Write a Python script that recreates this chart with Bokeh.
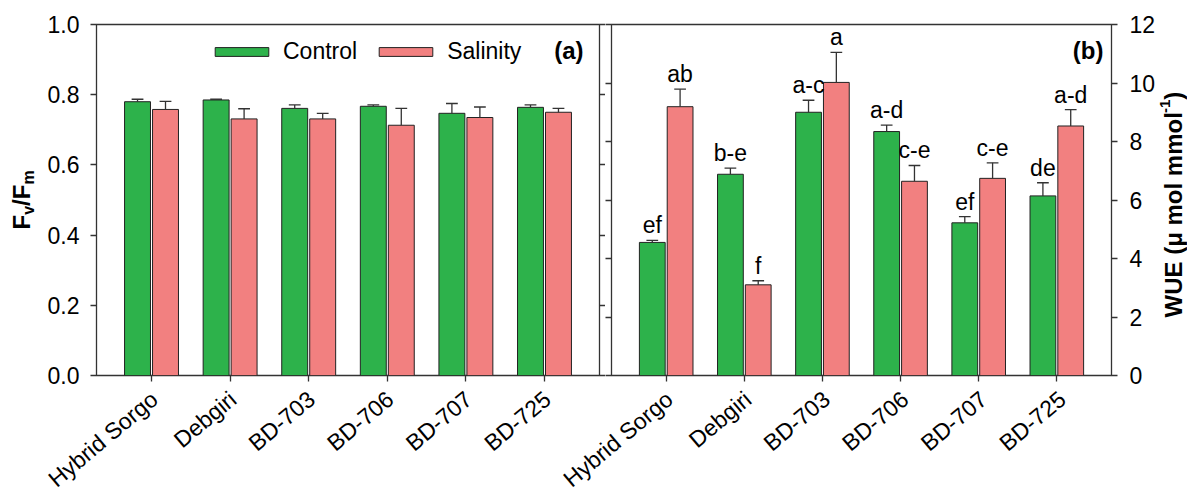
import math
from bokeh.plotting import figure
from bokeh.models import (Range1d, FixedTicker, LinearAxis, Label, LabelSet, ColumnDataSource,
                          Legend, LegendItem, NumeralTickFormatter, CustomJSTickFormatter)
from bokeh.layouts import row, column
from bokeh.embed import file_html
from bokeh.resources import INLINE
from bokeh.core.properties import value

# ---------------- data ----------------
genotypes = ["Hybrid Sorgo", "Debgiri", "BD-703", "BD-706", "BD-707", "BD-725"]
series_names = ["Control", "Salinity"]

fvfm_control = [0.780, 0.785, 0.761, 0.767, 0.747, 0.764]
fvfm_control_err = [0.007, 0.002, 0.010, 0.004, 0.028, 0.007]
fvfm_salinity = [0.758, 0.731, 0.731, 0.713, 0.735, 0.750]
fvfm_salinity_err = [0.023, 0.029, 0.016, 0.048, 0.030, 0.011]

wue_control = [4.55, 6.88, 9.00, 8.34, 5.22, 6.14]
wue_control_err = [0.07, 0.21, 0.41, 0.22, 0.21, 0.45]
wue_salinity = [9.19, 3.10, 10.02, 6.64, 6.74, 8.53]
wue_salinity_err = [0.60, 0.14, 1.03, 0.54, 0.53, 0.56]

wue_control_letters = ["ef", "b-e", "a-c", "a-d", "ef", "de"]
wue_salinity_letters = ["ab", "f", "a", "c-e", "c-e", "a-d"]

fvfm_ticks = [0.0, 0.2, 0.4, 0.6, 0.8, 1.0]
wue_ticks = [0, 2, 4, 6, 8, 10, 12]

# ---------------- style / layout ----------------
FONT = "Liberation Sans"
GREEN = "#2DB24B"
PINK = "#F28080"
INK = "#333333"
FS = "23px"
TOTAL_W, TOTAL_H = 1187, 489
TOP_B, BOT_B = 24, 10
FRAME_W, FRAME_H = 503, 351
TOP_H = TOP_B + FRAME_H + BOT_B
BOT_H = TOTAL_H - TOP_H
LAB1_W, P1_W, P2_W = 40, 565, 553
P1_LB, P1_RB, P2_LB, P2_RB = 56, 6, 6, 44
LAB2_W = TOTAL_W - LAB1_W - P1_W - P2_W
X_START, X_END = -0.70, 5.70
OFF = 0.178
BAR_W = 0.33
CAP = 0.075
XLAB_DROP = 10.5   # anchor of category labels below the frame bottom (px)

# Arial bold advance widths (em)
BOLD_W = {"F": 0.611, "v": 0.556, "/": 0.278, "m": 0.889, "W": 0.944, "U": 0.722, "E": 0.667,
          " ": 0.278, "(": 0.333, ")": 0.333, "\u03bc": 0.576, "o": 0.611, "l": 0.278,
          "-": 0.333, "1": 0.556}


def tw(s, size):
    return sum(BOLD_W.get(c, 0.6) for c in s) * size


empty_fmt = CustomJSTickFormatter(code="return ''")


def make_fig(width, ymax, left_b, right_b):
    p = figure(width=width, height=TOP_H, x_range=Range1d(X_START, X_END), y_range=Range1d(0, ymax),
               output_backend="svg", toolbar_location=None, x_axis_location=None, y_axis_location=None,
               min_border_left=left_b, min_border_right=right_b, min_border_top=TOP_B,
               min_border_bottom=BOT_B)
    p.xgrid.visible = False
    p.ygrid.visible = False
    p.outline_line_color = INK
    p.outline_line_width = 1.3
    p.background_fill_color = "white"
    p.border_fill_color = "white"
    return p


def blank_fig(width, height, x_range=None):
    p = figure(width=width, height=height, x_range=x_range or Range1d(0, 1), y_range=Range1d(0, 1),
               output_backend="svg", toolbar_location=None, x_axis_location=None, y_axis_location=None,
               min_border=0)
    p.xgrid.visible = False
    p.ygrid.visible = False
    p.outline_line_color = None
    p.border_fill_color = "white"
    p.background_fill_color = "white"
    return p


def style_axis(ax, labels=True, standoff=0):
    ax.axis_line_color = None
    ax.major_tick_out = 6
    ax.major_tick_in = 0
    ax.minor_tick_out = 0
    ax.minor_tick_in = 0
    ax.major_tick_line_color = INK
    ax.major_tick_line_width = 1.3
    ax.major_label_standoff = standoff
    ax.major_label_text_font = FONT
    ax.major_label_text_font_size = FS
    ax.major_label_text_color = "black"
    if not labels:
        ax.formatter = empty_fmt
        ax.major_label_text_font_size = "0px"


def add_bars(p, ctrl, ctrl_err, sal, sal_err):
    idx = list(range(len(genotypes)))
    renderers = []
    for vals, errs, sign, color in ((ctrl, ctrl_err, -1, GREEN), (sal, sal_err, 1, PINK)):
        xs = [i + sign * OFF for i in idx]
        tops = [v + e for v, e in zip(vals, errs)]
        src = ColumnDataSource(dict(x=xs, top=vals, etop=tops,
                                    cx0=[x - CAP for x in xs], cx1=[x + CAP for x in xs]))
        r = p.vbar(x="x", top="top", bottom=0, width=BAR_W, source=src, fill_color=color,
                   line_color="#222222", line_width=1)
        p.segment(x0="x", y0="top", x1="x", y1="etop", source=src, line_color=INK, line_width=1.3)
        p.segment(x0="cx0", y0="etop", x1="cx1", y1="etop", source=src, line_color=INK, line_width=1.3)
        renderers.append((r, src))
    return renderers


def add_x_ticks(p):
    ax = LinearAxis(ticker=FixedTicker(ticks=list(range(len(genotypes)))))
    style_axis(ax, labels=False)
    p.add_layout(ax, "below")


def rotated_title(fig, pieces, x0, y0):
    ypos = y0
    for txt, size, shift in pieces:
        fig.add_layout(Label(x=x0 + shift, y=ypos, x_units="screen", y_units="screen", text=txt,
                             angle=math.pi / 2, text_align="left", text_baseline="alphabetic",
                             text_font=FONT, text_font_size=f"{size}px", text_font_style="bold",
                             text_color="black"))
        ypos += tw(txt, size)


# ---------------- y title (a) ----------------
lab1 = blank_fig(LAB1_W, TOP_H)
rotated_title(lab1, [("F", 24, 0), ("v", 16, 6.5), ("/", 24, 0), ("F", 24, 0), ("m", 16, 6.5)], 21, 146)
lab1.min_border_top = TOP_B
lab1.min_border_bottom = BOT_B

# ---------------- panel (a) ----------------
p1 = make_fig(P1_W, 1.0, P1_LB, P1_RB)
bars1 = add_bars(p1, fvfm_control, fvfm_control_err, fvfm_salinity, fvfm_salinity_err)
add_x_ticks(p1)
ya = LinearAxis(ticker=FixedTicker(ticks=fvfm_ticks), formatter=NumeralTickFormatter(format="0.0"))
style_axis(ya, labels=True, standoff=11)
p1.add_layout(ya, "left")
yar = LinearAxis(ticker=FixedTicker(ticks=fvfm_ticks))
style_axis(yar, labels=False)
p1.add_layout(yar, "right")

legend = Legend(items=[LegendItem(label=series_names[0], renderers=[bars1[0][0]]),
                       LegendItem(label=series_names[1], renderers=[bars1[1][0]])],
                location=(112, 310), orientation="horizontal", glyph_width=67, glyph_height=11,
                label_standoff=8, spacing=15, padding=0, margin=0, background_fill_alpha=0,
                border_line_color=None, label_text_font=FONT, label_text_font_size=FS,
                label_text_color="black")
p1.add_layout(legend)

p1.add_layout(Label(x=487, y=325, x_units="screen", y_units="screen", text="(a)", text_align="right",
                    text_baseline="alphabetic", text_font=FONT, text_font_size="24px",
                    text_font_style="bold", text_color="black"))

# ---------------- panel (b) ----------------
p2 = make_fig(P2_W, 12, P2_LB, P2_RB)
bars2 = add_bars(p2, wue_control, wue_control_err, wue_salinity, wue_salinity_err)
add_x_ticks(p2)
yb = LinearAxis(ticker=FixedTicker(ticks=wue_ticks), formatter=NumeralTickFormatter(format="0"))
style_axis(yb, labels=True, standoff=12)
p2.add_layout(yb, "right")
ybl = LinearAxis(ticker=FixedTicker(ticks=wue_ticks))
style_axis(ybl, labels=False)
p2.add_layout(ybl, "left")

for (r, src), letters in zip(bars2, (wue_control_letters, wue_salinity_letters)):
    src.data["letters"] = letters
    p2.add_layout(LabelSet(x="x", y="etop", text="letters", source=src, text_align="center",
                           text_baseline="alphabetic", y_offset=7, text_font=value(FONT),
                           text_font_size=FS, text_color="black"))

p2.add_layout(Label(x=492, y=325, x_units="screen", y_units="screen", text="(b)", text_align="right",
                    text_baseline="alphabetic", text_font=FONT, text_font_size="24px",
                    text_font_style="bold", text_color="black"))

# ---------------- y title (b) ----------------
lab2 = blank_fig(LAB2_W, TOP_H)
rotated_title(lab2, [("WUE (\u03bc mol mmol", 24, 0), ("-1", 15, -8), (")", 24, 0)], 14.5, 58)
lab2.min_border_top = TOP_B
lab2.min_border_bottom = BOT_B

# ---------------- category label strip (shares the panels' x scale) ----------------
scale = FRAME_W / (X_END - X_START)
p1_frame_left = LAB1_W + P1_LB
p2_frame_left = LAB1_W + P1_W + P2_LB
strip_start = X_START - p1_frame_left / scale
strip = blank_fig(TOTAL_W, BOT_H, Range1d(strip_start, strip_start + TOTAL_W / scale))
panel_shift = (p2_frame_left - p1_frame_left) / scale
for shift in (0.0, panel_shift):
    src = ColumnDataSource(dict(x=[i + shift for i in range(len(genotypes))], text=genotypes))
    strip.add_layout(LabelSet(x="x", y=BOT_H + BOT_B - XLAB_DROP, y_units="screen", text="text",
                              source=src, x_offset=-5.5, angle=0.698, text_align="right",
                              text_baseline="top", text_font=value(FONT), text_font_size=FS,
                              text_color="black"))

layout = column(row(lab1, p1, p2, lab2), strip)
open("out.html", "w").write(file_html(layout, INLINE))
